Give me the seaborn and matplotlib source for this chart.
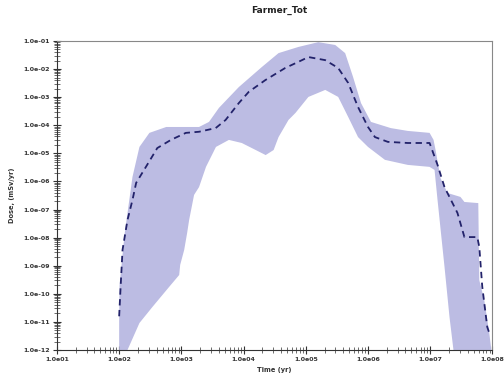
import numpy as np
import pandas as pd
import matplotlib
matplotlib.use("Agg")
import matplotlib.pyplot as plt
import matplotlib.ticker as mticker
import seaborn as sns

# ---- data (log10 values) ----
mean_logt = [2.00, 2.02, 2.054, 2.134, 2.214, 2.273, 2.433, 2.613, 2.832, 3.072, 3.284,
             3.551, 3.711, 3.923, 4.083, 4.350, 4.669, 4.882, 5.042, 5.313, 5.521, 5.681,
             5.840, 6.000, 6.112, 6.319, 6.639, 6.990, 7.118, 7.230, 7.438, 7.550, 7.757,
             7.789, 7.837, 7.917, 7.949]
mean_logd = [-10.8, -9.9, -8.44, -7.37, -6.66, -6.05, -5.47, -4.81, -4.52, -4.27, -4.23,
             -4.10, -3.81, -3.21, -2.81, -2.39, -1.96, -1.74, -1.57, -1.68, -1.96, -2.49,
             -3.35, -4.06, -4.42, -4.59, -4.63, -4.63, -5.41, -6.20, -7.12, -7.98, -7.98,
             -8.33, -9.75, -11.18, -11.39]

upper_logt = [2.00, 2.006, 2.086, 2.214, 2.326, 2.486, 2.757, 3.045, 3.284, 3.444, 3.604,
              3.923, 4.291, 4.562, 4.882, 5.201, 5.473, 5.633, 5.760, 5.888, 6.048, 6.367,
              6.639, 6.990, 7.054, 7.086, 7.166, 7.278, 7.486, 7.550, 7.773, 7.789, 7.869,
              7.949, 8.00]
upper_logd = [-11.0, -9.7, -7.9, -5.84, -4.77, -4.27, -4.06, -4.06, -4.06, -3.88, -3.38,
              -2.64, -1.93, -1.43, -1.21, -1.04, -1.14, -1.43, -2.28, -3.21, -3.88, -4.10,
              -4.20, -4.27, -4.52, -4.88, -5.88, -6.41, -6.55, -6.73, -6.77, -9.51, -10.22,
              -11.39, -12.3]

lower_logt = [2.00, 2.086, 2.134, 2.326, 2.534, 2.805, 2.965, 2.981, 3.045, 3.093, 3.125,
              3.204, 3.284, 3.396, 3.556, 3.764, 3.971, 4.195, 4.355, 4.483, 4.562, 4.722,
              4.834, 5.042, 5.313, 5.521, 5.681, 5.840, 6.000, 6.272, 6.639, 6.990, 7.070,
              7.118, 7.230, 7.310, 7.374, 7.406, 8.00]
lower_logd = [-13.0, -12.35, -12.0, -11.04, -10.47, -9.75, -9.33, -8.97, -8.44, -7.83, -7.37,
              -6.48, -6.20, -5.48, -4.77, -4.52, -4.63, -4.88, -5.06, -4.88, -4.42, -3.81,
              -3.56, -2.99, -2.74, -2.99, -3.70, -4.42, -4.77, -5.23, -5.41, -5.48, -5.59,
              -6.66, -9.04, -10.82, -12.0, -12.7, -13.0]

x_tick_exp = [1, 2, 3, 4, 5, 6, 7, 8]
y_tick_exp = [-12, -11, -10, -9, -8, -7, -6, -5, -4, -3, -2, -1]
x_tick_labels = ["1.0e%02d" % e for e in x_tick_exp]
y_tick_labels = ["1.0e-%02d" % abs(e) for e in y_tick_exp]

title = "Farmer_Tot"
xlabel = "Time (yr)"
ylabel = "Dose, (mSv/yr)"

# ---- figure ----
sns.set_style("ticks")
plt.rcParams['font.family'] = ['DejaVu Sans']

fig = plt.figure(figsize=(5.04, 3.8), dpi=100)
ax = fig.add_axes([0.113, 0.079, 0.864, 0.813])

band_color = "#bcbce3"
line_color = "#22226a"

poly_x = 10.0 ** np.concatenate([np.array(upper_logt), np.array(lower_logt)[::-1]])
poly_y = 10.0 ** np.concatenate([np.array(upper_logd), np.array(lower_logd)[::-1]])
ax.fill(poly_x, poly_y, color=band_color, lw=0, zorder=1)

df = pd.DataFrame({"t": 10.0 ** np.array(mean_logt), "d": 10.0 ** np.array(mean_logd)})
sns.lineplot(data=df, x="t", y="d", ax=ax, color=line_color, lw=1.3,
             linestyle=(0, (3.5, 2.5)), zorder=3, sort=False)

ax.set_xscale("log")
ax.set_yscale("log")
ax.set_xlim(1e1, 1e8)
ax.set_ylim(1e-12, 1e-1)

xmaj = [10.0 ** e for e in x_tick_exp]
ymaj = [10.0 ** e for e in y_tick_exp]
xmin = [m * 10.0 ** e for e in x_tick_exp[:-1] for m in range(2, 10)]
ymin = [m * 10.0 ** e for e in y_tick_exp[:-1] for m in range(2, 10)]
ax.set_xticks(xmaj)
ax.set_xticklabels(x_tick_labels)
ax.set_yticks(ymaj)
ax.set_yticklabels(y_tick_labels)
ax.set_xticks(xmin, minor=True)
ax.set_yticks(ymin, minor=True)
ax.xaxis.set_minor_formatter(mticker.NullFormatter())
ax.yaxis.set_minor_formatter(mticker.NullFormatter())

ax.tick_params(axis="both", which="major", direction="inout", length=6, width=0.8,
               labelsize=4.5, colors="#333333", pad=2)
ax.tick_params(axis="both", which="minor", direction="inout", length=5, width=0.6,
               color="#555555")
for lab in ax.get_xticklabels() + ax.get_yticklabels():
    lab.set_fontweight("bold")

for s in ["left", "bottom"]:
    ax.spines[s].set_color("#333333")
    ax.spines[s].set_linewidth(0.8)
for s in ["top", "right"]:
    ax.spines[s].set_visible(True)
    ax.spines[s].set_color("#888888")
    ax.spines[s].set_linewidth(0.8)

ax.set_xlabel(xlabel, fontsize=4.8, fontweight="bold", color="#333333", labelpad=4)
ax.set_ylabel(ylabel, fontsize=4.8, fontweight="bold", color="#333333", labelpad=6)
fig.suptitle(title, x=0.555, y=0.985, fontsize=6.5, fontweight="bold", color="#222222")

fig.savefig("out.png", dpi=100)
